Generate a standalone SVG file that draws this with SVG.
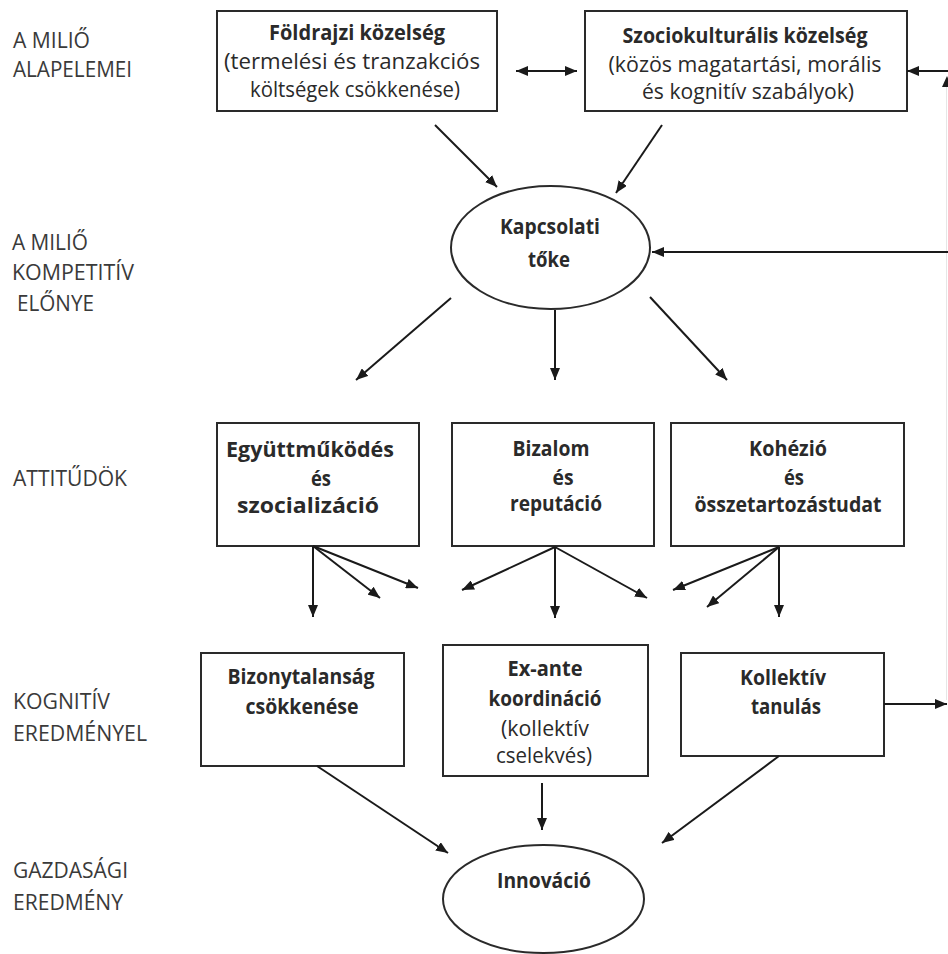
<svg xmlns="http://www.w3.org/2000/svg" width="948" height="954" viewBox="0 0 948 954">
<defs>
<marker id="ah" viewBox="0 0 12 10" refX="12" refY="5" markerWidth="12" markerHeight="10" markerUnits="userSpaceOnUse" orient="auto-start-reverse">
<path d="M0,0 L12,5 L0,10 z" fill="#1a1a1a"/>
</marker>
<style>
.box{fill:#fff;stroke:#2a2a2a;stroke-width:2}
.ell{fill:#fff;stroke:#2a2a2a;stroke-width:2}
.c{fill:none;stroke:#1a1a1a;stroke-width:2;marker-end:url(#ah)}
.t{font-family:"Open Sans","Liberation Sans",Arial,sans-serif;font-size:21px;fill:#2a2a2a;text-anchor:middle}
.b{font-weight:bold;font-size:20.5px}
.lab{font-family:"Open Sans","Liberation Sans",Arial,sans-serif;font-size:21px;fill:#3a3a3a}
</style>
</defs>
<rect width="948" height="954" fill="#fff"/>

<g id="labels">
<text class="lab" x="13" y="48" textLength="77" lengthAdjust="spacingAndGlyphs">A MILIŐ</text>
<text class="lab" x="13" y="77" textLength="119" lengthAdjust="spacingAndGlyphs">ALAPELEMEI</text>
<text class="lab" x="12" y="250" textLength="76" lengthAdjust="spacingAndGlyphs">A MILIŐ</text>
<text class="lab" x="12" y="280" textLength="122" lengthAdjust="spacingAndGlyphs">KOMPETITÍV</text>
<text class="lab" x="17" y="311" textLength="77" lengthAdjust="spacingAndGlyphs">ELŐNYE</text>
<text class="lab" x="13" y="486" textLength="114" lengthAdjust="spacingAndGlyphs">ATTITŰDÖK</text>
<text class="lab" x="13" y="709" textLength="97" lengthAdjust="spacingAndGlyphs">KOGNITÍV</text>
<text class="lab" x="13" y="741" textLength="134" lengthAdjust="spacingAndGlyphs">EREDMÉNYEL</text>
<text class="lab" x="13" y="878" textLength="115" lengthAdjust="spacingAndGlyphs">GAZDASÁGI</text>
<text class="lab" x="13" y="910" textLength="110" lengthAdjust="spacingAndGlyphs">EREDMÉNY</text>
</g>

<g id="foldrajzi">
<rect class="box" x="217" y="11" width="280" height="100"/>
<text class="t b" x="357" y="40" textLength="176" lengthAdjust="spacingAndGlyphs">Földrajzi közelség</text>
<text class="t" x="352" y="69" textLength="256" lengthAdjust="spacingAndGlyphs">(termelési és tranzakciós</text>
<text class="t" x="355" y="97" textLength="210" lengthAdjust="spacingAndGlyphs">költségek csökkenése)</text>
</g>

<g id="szociokulturalis">
<rect class="box" x="585" y="11" width="322" height="100"/>
<text class="t b" x="745" y="43" textLength="245" lengthAdjust="spacingAndGlyphs">Szociokulturális közelség</text>
<text class="t" x="745" y="72" textLength="273" lengthAdjust="spacingAndGlyphs">(közös magatartási, morális</text>
<text class="t" x="748" y="99" textLength="212" lengthAdjust="spacingAndGlyphs">és kognitív szabályok)</text>
</g>

<g id="kapcsolati">
<ellipse class="ell" cx="550.5" cy="247.5" rx="99.5" ry="61.5"/>
<text class="t b" x="550" y="234" textLength="100" lengthAdjust="spacingAndGlyphs">Kapcsolati</text>
<text class="t b" x="549" y="267" textLength="42" lengthAdjust="spacingAndGlyphs">tőke</text>
</g>

<g id="egyuttmukodes">
<rect class="box" x="217" y="423" width="202" height="123"/>
<text class="t b" x="310" y="457" textLength="168" lengthAdjust="spacingAndGlyphs">Együttműködés</text>
<text class="t b" x="321" y="486" textLength="20" lengthAdjust="spacingAndGlyphs">és</text>
<text class="t b" x="308" y="513" textLength="142" lengthAdjust="spacingAndGlyphs">szocializáció</text>
</g>

<g id="bizalom">
<rect class="box" x="452" y="423" width="202" height="123"/>
<text class="t b" x="551" y="456" textLength="77" lengthAdjust="spacingAndGlyphs">Bizalom</text>
<text class="t b" x="563" y="485" textLength="21" lengthAdjust="spacingAndGlyphs">és</text>
<text class="t b" x="556" y="511" textLength="92" lengthAdjust="spacingAndGlyphs">reputáció</text>
</g>

<g id="kohezio">
<rect class="box" x="671" y="423" width="233" height="123"/>
<text class="t b" x="788" y="456" textLength="78" lengthAdjust="spacingAndGlyphs">Kohézió</text>
<text class="t b" x="794" y="485" textLength="20" lengthAdjust="spacingAndGlyphs">és</text>
<text class="t b" x="788" y="512" textLength="187" lengthAdjust="spacingAndGlyphs">összetartozástudat</text>
</g>

<g id="bizonytalansag">
<rect class="box" x="201" y="653" width="203" height="113"/>
<text class="t b" x="301" y="684" textLength="147" lengthAdjust="spacingAndGlyphs">Bizonytalanság</text>
<text class="t b" x="302" y="714" textLength="113" lengthAdjust="spacingAndGlyphs">csökkenése</text>
</g>

<g id="exante">
<rect class="box" x="443" y="645" width="205" height="131"/>
<text class="t b" x="545" y="676" textLength="75" lengthAdjust="spacingAndGlyphs">Ex-ante</text>
<text class="t b" x="545" y="706" textLength="113" lengthAdjust="spacingAndGlyphs">koordináció</text>
<text class="t" x="545" y="736" textLength="88" lengthAdjust="spacingAndGlyphs">(kollektív</text>
<text class="t" x="544" y="763" textLength="96" lengthAdjust="spacingAndGlyphs">cselekvés)</text>
</g>

<g id="kollektiv">
<rect class="box" x="681" y="653" width="203" height="103"/>
<text class="t b" x="783" y="685" textLength="86" lengthAdjust="spacingAndGlyphs">Kollektív</text>
<text class="t b" x="786" y="714" textLength="70" lengthAdjust="spacingAndGlyphs">tanulás</text>
</g>

<g id="innovacio">
<ellipse class="ell" cx="543.5" cy="899" rx="100.5" ry="54"/>
<text class="t b" x="544" y="888" textLength="94" lengthAdjust="spacingAndGlyphs">Innováció</text>
</g>

<g id="connectors">
<line x1="946.5" y1="84" x2="946.5" y2="700" stroke="#e6e6e6" stroke-width="1"/>
<polygon points="942,87 947,76 952,87" fill="#1a1a1a"/>
<line class="c" x1="516" y1="71" x2="577" y2="71" style="marker-start:url(#ah)"/>
<line class="c" x1="948" y1="71" x2="907" y2="71"/>
<line class="c" x1="948" y1="252" x2="652" y2="252"/>
<line class="c" x1="435" y1="125" x2="497" y2="187"/>
<line class="c" x1="662" y1="125" x2="616" y2="193"/>
<line class="c" x1="451" y1="298" x2="356" y2="380"/>
<line class="c" x1="555" y1="310" x2="555" y2="380"/>
<line class="c" x1="650" y1="297" x2="727" y2="380"/>
<line class="c" x1="313" y1="546" x2="313" y2="617"/>
<line class="c" x1="313" y1="546" x2="380" y2="598"/>
<line class="c" x1="313" y1="546" x2="418" y2="588"/>
<line class="c" x1="555" y1="547" x2="462" y2="590"/>
<line class="c" x1="555" y1="547" x2="555" y2="618"/>
<line class="c" x1="555" y1="547" x2="647" y2="598"/>
<line class="c" x1="779" y1="547" x2="673" y2="590"/>
<line class="c" x1="779" y1="547" x2="707" y2="607"/>
<line class="c" x1="779" y1="547" x2="779" y2="617"/>
<line class="c" x1="884" y1="704" x2="947" y2="704"/>
<line class="c" x1="542" y1="783" x2="542" y2="830"/>
<line class="c" x1="317" y1="766" x2="448" y2="853"/>
<line class="c" x1="779" y1="756" x2="662" y2="843"/>
</g>
</svg>
